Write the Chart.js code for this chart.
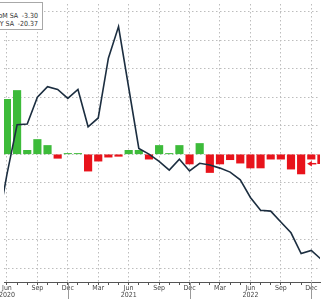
<!DOCTYPE html>
<html>
<head>
<meta charset="utf-8">
<script src="https://cdn.jsdelivr.net/npm/chart.js@4/dist/chart.umd.min.js"></script>
<style>
  html, body { margin: 0; padding: 0; background: #fff; overflow: hidden; }
  #wrap { position: relative; width: 324px; height: 299px; }
  #legend {
    position: absolute; left: -14px; top: 2px; width: 55px; height: 26px;
    border: 1px solid #a8a8a8; background: #fff;
    font: 7px "Liberation Sans Narrow", "DejaVu Sans Condensed", Arial, sans-serif; color: #333;
  }
  #legend .row { position: absolute; left: 6px; width: 45px; white-space: nowrap; }
  #legend .val { position: absolute; right: 0; }
</style>
</head>
<body>
<div id="wrap">
  <canvas id="myChart" width="324" height="299"></canvas>
  <div id="legend">
    <div class="row" style="top:9px">MoM SA<span class="val">-3.30</span></div>
    <div class="row" style="top:17px">YoY SA<span class="val">-20.37</span></div>
  </div>
</div>
<script>
// monthly, May 2020 .. Jan 2023
const months = ['May 2020', 'Jun 2020', 'Jul 2020', 'Aug 2020', 'Sep 2020', 'Oct 2020', 'Nov 2020', 'Dec 2020',
    'Jan 2021', 'Feb 2021', 'Mar 2021', 'Apr 2021', 'May 2021', 'Jun 2021', 'Jul 2021', 'Aug 2021',
    'Sep 2021', 'Oct 2021', 'Nov 2021', 'Dec 2021', 'Jan 2022', 'Feb 2022', 'Mar 2022', 'Apr 2022',
    'May 2022', 'Jun 2022', 'Jul 2022', 'Aug 2022', 'Sep 2022', 'Oct 2022', 'Nov 2022', 'Dec 2022', 'Jan 2023'];
const momSA = [null, 19.3, 22.4, 1.4, 5.2, 3.1, -1.4, 0.3,
    0.3, -5.9, -2.4, -1.0, -0.7, 1.4, 1.4, -1.7,
    3.1, 0.3, 3.1, -3.4, 3.8, -6.4, -3.4, -1.9,
    -3.1, -4.8, -4.8, -1.7, -1.7, -5.2, -6.9, -1.7, -3.30];
const yoySA = [-10.2, 9.5, 26.9, 27.2, 36.6, 40.3, 39.3, 36.2,
    39.3, 26.2, 29.3, 50.3, 61.4, 40.0, 18.6, 16.6,
    14.1, 11.0, 14.8, 10.7, 13.4, 12.8, 11.7, 10.3,
    7.6, 1.4, -3.1, -3.4, -7.2, -11.0, -18.3, -17.2, -20.37];
const tickMonths = ['Mar', 'Jun', 'Sep', 'Dec'];
const lastMoM = -3.30;

const green = '#3dbb3a';
const red = '#e8131b';
const gridColor = '#bdbdbd';

// x value: months after Jun 2020
const xOf = i => i - 1;

const barData = [];
momSA.forEach((v, i) => { if (v !== null) barData.push({x: xOf(i), y: v}); });
const lineData = yoySA.map((v, i) => ({x: xOf(i), y: v}));
const lastX = xOf(months.length - 1);

// year separators under the axis
const yearLines = {
    id: 'yearLines',
    afterDraw(chart) {
        const xs = chart.scales.x;
        const ctx = chart.ctx;
        ctx.save();
        ctx.strokeStyle = '#9a9a9a';
        ctx.lineWidth = 1;
        months.forEach((m, i) => {
            if (m.startsWith('Dec')) {
                const px = Math.round(xs.getPixelForValue(xOf(i))) + 0.5;
                ctx.beginPath();
                ctx.moveTo(px, xs.top);
                ctx.lineTo(px, chart.height);
                ctx.stroke();
            }
        });
        ctx.restore();
    }
};

const xMin = -0.29, xMax = 30.86;

new Chart(document.getElementById('myChart').getContext('2d'), {
    type: 'bar',
    data: {
        datasets: [
            {
                type: 'line', data: lineData, yAxisID: 'y1', order: 0,
                borderColor: '#1c2e40', borderWidth: 1.6, pointRadius: 0, tension: 0
            },
            {
                type: 'scatter', data: [{x: lastX - 1.1, y: lastMoM}], yAxisID: 'y', order: 0,
                pointStyle: 'triangle', rotation: -90, pointRadius: 3.2,
                backgroundColor: red, borderColor: red, borderWidth: 0
            },
            {
                type: 'line', data: [{x: lastX - 1.1, y: lastMoM}, {x: lastX - 0.5, y: lastMoM}], yAxisID: 'y', order: 0,
                borderColor: red, borderWidth: 1.5, pointRadius: 0
            },
            {
                type: 'bar', data: barData, yAxisID: 'y', order: 1,
                backgroundColor: barData.map(d => d.y >= 0 ? green : red),
                barThickness: 7.5
            }
        ]
    },
    options: {
        responsive: false,
        animation: false,
        layout: {padding: 0},
        plugins: {legend: {display: false}, tooltip: {enabled: false}},
        scales: {
            x: {
                type: 'linear', min: xMin, max: xMax, offset: false,
                afterBuildTicks: axis => {
                    const t = [{value: xMin}];
                    for (let i = 1; i < months.length; i++) {
                        if (xOf(i) <= xMax) t.push({value: xOf(i)});
                    }
                    t.push({value: xMax});
                    axis.ticks = t;
                },
                ticks: {
                    autoSkip: false, maxRotation: 0, minRotation: 0, padding: 0,
                    color: '#444',
                    font: {family: '"Liberation Sans Narrow", "DejaVu Sans Condensed", sans-serif', size: 7, lineHeight: 1.0},
                    callback: v => {
                        const m = months[v + 1];
                        if (!m || !Number.isInteger(v)) return '';
                        const [name, year] = m.split(' ');
                        if (!tickMonths.includes(name)) return '';
                        return name === 'Jun' ? [name, year] : name;
                    }
                },
                grid: {
                    offset: false,
                    drawOnChartArea: true,
                    tickLength: 3,
                    color: c => {
                        const m = c.tick && Number.isInteger(c.tick.value) ? months[c.tick.value + 1] : null;
                        return m && tickMonths.includes(m.split(' ')[0]) ? gridColor : 'rgba(0,0,0,0)';
                    },
                    tickColor: c => c.tick && Number.isInteger(c.tick.value) ? '#555' : 'rgba(0,0,0,0)'
                },
                border: {display: true, color: '#555', width: 1, dash: [1.5, 2.5]}
            },
            y: {
                position: 'left',
                min: -44.83, max: 52.76,
                afterBuildTicks: axis => {
                    axis.ticks = [-40, -30, -20, -10, 0, 10, 20, 30, 40, 50].map(v => ({value: v}));
                },
                ticks: {display: false},
                grid: {color: gridColor, drawTicks: false},
                border: {display: false, dash: [1.5, 2.5]}
            },
            y1: {
                position: 'right', display: false,
                min: -28.28, max: 69.31
            }
        }
    },
    plugins: [yearLines]
});
</script>
</body>
</html>
